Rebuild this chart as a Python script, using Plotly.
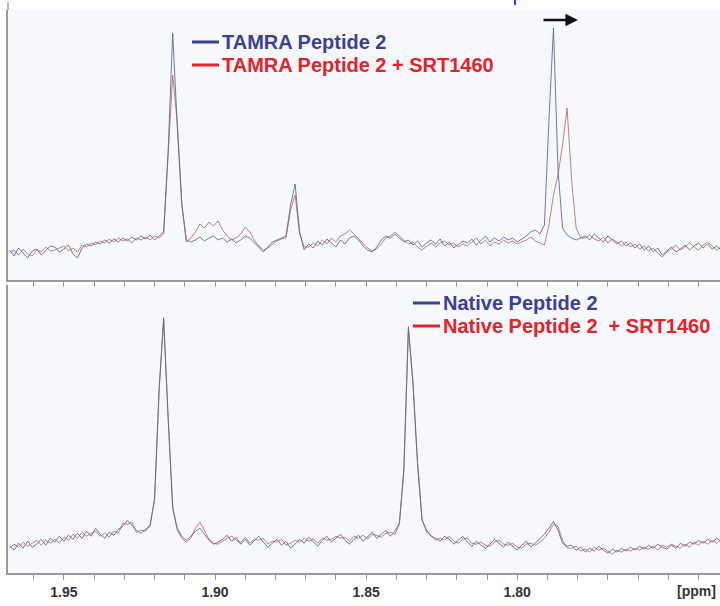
import plotly.graph_objects as go

# chemical shift grid (ppm)
PPM = [
    1.9680, 1.9665, 1.9650, 1.9635, 1.9620, 1.9605, 1.9590, 1.9575, 1.9560, 1.9545,
    1.9530, 1.9515, 1.9500, 1.9485, 1.9470, 1.9455, 1.9440, 1.9425, 1.9410, 1.9395,
    1.9380, 1.9365, 1.9350, 1.9335, 1.9320, 1.9305, 1.9290, 1.9275, 1.9260, 1.9245,
    1.9230, 1.9215, 1.9200, 1.9185, 1.9170, 1.9155, 1.9140, 1.9125, 1.9110, 1.9095,
    1.9080, 1.9065, 1.9050, 1.9035, 1.9020, 1.9005, 1.8990, 1.8975, 1.8960, 1.8945,
    1.8930, 1.8915, 1.8900, 1.8885, 1.8870, 1.8855, 1.8840, 1.8825, 1.8810, 1.8795,
    1.8780, 1.8765, 1.8750, 1.8735, 1.8720, 1.8705, 1.8690, 1.8675, 1.8660, 1.8645,
    1.8630, 1.8615, 1.8600, 1.8585, 1.8570, 1.8555, 1.8540, 1.8525, 1.8510, 1.8495,
    1.8480, 1.8465, 1.8450, 1.8435, 1.8420, 1.8405, 1.8390, 1.8375, 1.8360, 1.8345,
    1.8330, 1.8315, 1.8300, 1.8285, 1.8270, 1.8255, 1.8240, 1.8225, 1.8210, 1.8195,
    1.8180, 1.8165, 1.8150, 1.8135, 1.8120, 1.8105, 1.8090, 1.8075, 1.8060, 1.8045,
    1.8030, 1.8015, 1.8000, 1.7985, 1.7970, 1.7955, 1.7940, 1.7925, 1.7910, 1.7895,
    1.7880, 1.7865, 1.7850, 1.7835, 1.7820, 1.7805, 1.7790, 1.7775, 1.7760, 1.7745,
    1.7730, 1.7715, 1.7700, 1.7685, 1.7670, 1.7655, 1.7640, 1.7625, 1.7610, 1.7595,
    1.7580, 1.7565, 1.7550, 1.7535, 1.7520, 1.7505, 1.7490, 1.7475, 1.7460, 1.7445,
    1.7430, 1.7415, 1.7400, 1.7385, 1.7370, 1.7355, 1.7340, 1.7325,
]

# top panel: TAMRA Peptide 2 (blue) and + SRT1460 (red), arbitrary intensity
TOP_BLUE = [
    0, -6, 2, -3, -8, -1, 1, -5, 0, 4,
    3, -2, 1, 5, -4, -8, 2, 6, 4, 8,
    6, 10, 7, 11, 8, 12, 9, 13, 10, 14,
    11, 15, 10, 14, 18, 100, 217, 125, 45, 10,
    8, 10, 13, 9, 12, 14, 10, 12, 8, 11,
    7, 10, 14, 12, 7, 2, -2, 3, 8, 10,
    12, 14, 45, 66, 18, 0, 6, 2, 9, 5,
    11, 7, 3, 10, 6, 12, 14, 10, 4, 0,
    -2, 3, 10, 14, 12, 16, 12, 8, 10, 5,
    9, 3, 7, 10, 6, 11, 4, 8, 2, 6,
    9, 7, 11, 5, 10, 14, 8, 12, 9, 13,
    10, 12, 8, 11, 14, 18, 20, 16, 25, 130,
    222, 80, 22, 15, 12, 10, 12, 14, 10, 16,
    12, 8, 14, 10, 6, 9, 4, 7, 2, 6,
    0, 4, -2, 2, -5, -1, 3, -2, 1, 5,
    0, 4, 7, 2, 6, 1, 4, 0,
]
TOP_RED = [
    -2, 0, -5, 1, -4, -6, 0, -2, 3, -1,
    0, 2, 4, -1, 2, -2, 5, 3, 7, 5,
    9, 7, 11, 8, 12, 9, 11, 7, 12, 10,
    13, 10, 14, 12, 16, 95, 175, 128, 48, 8,
    12, 18, 26, 22, 28, 24, 29, 20, 14, 10,
    12, 16, 23, 18, 10, 4, 0, 2, 6, 9,
    11, 12, 40, 55, 16, 3, 3, 7, 4, 10,
    6, 12, 8, 14, 16, 20, 16, 11, 6, 2,
    -1, 1, 6, 12, 14, 18, 14, 10, 6, 8,
    3, 0, 4, 7, 3, 7, 9, 5, 7, 3,
    6, 4, 8, 12, 6, 10, 4, 8, 6, 10,
    7, 9, 6, 8, 10, 13, 9, 7, 5, 25,
    55, 75, 105, 142, 70, 22, 12, 12, 15, 11,
    9, 13, 7, 11, 8, 4, 8, 3, 6, 1,
    4, -1, 2, -3, -7, -2, 1, 5, 0, 3,
    7, 3, 0, 5, 8, 4, 0, 3,
]

# bottom panel: Native Peptide 2 (blue) and + SRT1460 (red)
BOT_BLUE = [
    2, -2, 5, 0, 7, 1, 4, 9, 3, 10,
    6, 12, 7, 13, 9, 15, 10, 17, 12, 20,
    14, 10, 16, 13, 19, 22, 28, 23, 18, 15,
    19, 22, 50, 160, 232, 130, 40, 20, 12, 8,
    12, 17, 20, 14, 8, 4, 6, 9, 13, 7,
    11, 4, 9, 3, 7, 12, 6, 1, 5, 9,
    3, 7, 0, 4, 9, 5, 11, 6, 2, 8,
    12, 6, 10, 14, 8, 4, 9, 13, 7, 12,
    16, 10, 14, 18, 12, 17, 25, 80, 223, 165,
    85, 28, 18, 12, 10, 7, 12, 9, 4, 8,
    12, 6, 2, 7, 3, 0, 4, 9, 5, 1,
    6, 2, -2, 3, 7, 1, 5, 9, 14, 20,
    27, 18, 5, 2, 3, -2, 1, -4, 0, -3,
    2, -2, -5, -1, -4, 0, -3, 1, -2, 2,
    -1, 3, 0, 4, 1, -1, 3, 0, 5, 2,
    6, 4, 8, 5, 9, 6, 10, 7,
]
BOT_RED = [
    0, 4, 1, 6, 2, 5, 8, 3, 8, 5,
    9, 5, 11, 8, 14, 10, 16, 12, 15, 17,
    12, 15, 11, 17, 15, 25, 24, 26, 16, 18,
    17, 24, 48, 158, 230, 132, 42, 18, 10, 6,
    10, 20, 26, 18, 9, 5, 4, 7, 10, 12,
    8, 6, 11, 5, 9, 8, 10, 4, 7, 6,
    9, 3, 5, 8, 6, 10, 7, 9, 5, 10,
    8, 9, 12, 10, 11, 7, 12, 10, 13, 9,
    14, 13, 11, 15, 16, 14, 24, 78, 220, 168,
    88, 30, 16, 13, 8, 10, 8, 12, 7, 5,
    9, 10, 5, 4, 6, 3, 2, 6, 8, 4,
    3, 5, 1, 0, 4, 5, 3, 6, 10, 16,
    24, 22, 8, 0, 0, 2, -3, -1, -4, 1,
    -2, 0, -3, -6, -2, -4, -1, -3, 0, -2,
    1, -1, 2, -2, 3, 1, 4, 2, 0, 4,
    1, 6, 3, 7, 4, 8, 5, 9,
]

TICK_VALS = [1.96, 1.95, 1.94, 1.93, 1.92, 1.91, 1.90, 1.89, 1.88, 1.87, 1.86,
             1.85, 1.84, 1.83, 1.82, 1.81, 1.80, 1.79, 1.78, 1.77, 1.76, 1.75, 1.74]
TICK_LABELED = {1.95: "1.95", 1.90: "1.90", 1.85: "1.85", 1.80: "1.80"}
TICK_TEXT = ["<b>%s</b>" % TICK_LABELED[v] if v in TICK_LABELED else "" for v in TICK_VALS]

LEG_TOP = ["TAMRA Peptide 2", "TAMRA Peptide 2 + SRT1460"]
LEG_BOT = ["Native Peptide 2", "Native Peptide 2\u00a0 + SRT1460"]

W, H = 720, 606
ML, MR, MT, MB = 8, 0, 10, 33
PW, PH = W - ML - MR, H - MT - MB
Y_SPLIT_TOP = 280   # pixel row of the upper panel's bottom axis
Y_SPLIT_BOT = 285   # pixel row where the lower panel begins


def pxx(x):
    return (x - ML) / PW


def pxy(y):
    return (H - MB - y) / PH


BLUE_LINE = "rgba(95,97,135,0.85)"
RED_LINE = "rgba(170,110,112,0.85)"
BLUE_TXT = "#3c3f95"
RED_TXT = "#e3222a"
AX = "#9a9a9a"
FONT = "Liberation Sans, Arial, sans-serif"

fig = go.Figure()
fig.add_trace(go.Scatter(x=PPM, y=TOP_RED, xaxis="x", yaxis="y", mode="lines",
                         line=dict(color=RED_LINE, width=1), showlegend=False, name=LEG_TOP[1]))
fig.add_trace(go.Scatter(x=PPM, y=TOP_BLUE, xaxis="x", yaxis="y", mode="lines",
                         line=dict(color=BLUE_LINE, width=1), showlegend=False, name=LEG_TOP[0]))
fig.add_trace(go.Scatter(x=PPM, y=BOT_RED, xaxis="x2", yaxis="y2", mode="lines",
                         line=dict(color=RED_LINE, width=1), showlegend=False, name=LEG_BOT[1]))
fig.add_trace(go.Scatter(x=PPM, y=BOT_BLUE, xaxis="x2", yaxis="y2", mode="lines",
                         line=dict(color=BLUE_LINE, width=1), showlegend=False, name=LEG_BOT[0]))

XR = [1.9685, 1.7329]
common_x = dict(range=XR, showgrid=False, zeroline=False, showline=True, linecolor=AX,
                linewidth=1.5, ticks="outside", tickcolor=AX, ticklen=5, tickwidth=1,
                tickvals=TICK_VALS)
fig.update_layout(
    width=W, height=H,
    margin=dict(l=ML, r=MR, t=MT, b=MB),
    paper_bgcolor="#ffffff",
    plot_bgcolor="#f6f8fc",
    font=dict(family=FONT),
    xaxis=dict(domain=[0, 1], anchor="y", showticklabels=False, **common_x),
    yaxis=dict(domain=[pxy(Y_SPLIT_TOP), 1], range=[-30, 240], showgrid=False, zeroline=False,
               showline=True, linecolor=AX, linewidth=1.5, showticklabels=False, ticks=""),
    xaxis2=dict(domain=[0, 1], anchor="y2", ticktext=TICK_TEXT,
                tickfont=dict(size=14, color="#333333", family=FONT), **common_x),
    yaxis2=dict(domain=[0, pxy(Y_SPLIT_BOT)], range=[-25, 265], showgrid=False, zeroline=False,
                showline=True, linecolor=AX, linewidth=1.5, showticklabels=False, ticks=""),
)

shapes = []
anns = []


def legend_entry(x0, y, text, color):
    shapes.append(dict(type="line", xref="paper", yref="paper", x0=pxx(x0), x1=pxx(x0 + 27),
                       y0=pxy(y), y1=pxy(y), line=dict(color=color, width=3)))
    anns.append(dict(xref="paper", yref="paper", x=pxx(x0 + 28), y=pxy(y), text="<b>%s</b>" % text,
                     showarrow=False, xanchor="left", yanchor="middle",
                     font=dict(size=20, color=color, family=FONT)))


legend_entry(192, 42, LEG_TOP[0], BLUE_TXT)
legend_entry(192, 65, LEG_TOP[1], RED_TXT)
legend_entry(413, 303, LEG_BOT[0], BLUE_TXT)
legend_entry(413, 326, LEG_BOT[1], RED_TXT)

# shift arrow
anns.append(dict(xref="x", yref="y", axref="x", ayref="y", x=1.7799, y=230, ax=1.7918, ay=230,
                 text="", showarrow=True, arrowhead=2, arrowsize=1, arrowwidth=2.5,
                 arrowcolor="#111111"))
# axis unit label
anns.append(dict(xref="paper", yref="paper", x=pxx(718), y=pxy(591), text="<b>[ppm]</b>",
                 showarrow=False, xanchor="right", yanchor="middle",
                 font=dict(size=14, color="#333333", family=FONT)))
# left frame line above plot area
shapes.append(dict(type="line", xref="paper", yref="paper", x0=0, x1=0, y0=1, y1=pxy(2),
                   line=dict(color=AX, width=1.5)))
# clipped blue fragment at the very top edge
shapes.append(dict(type="line", xref="paper", yref="paper", x0=pxx(515), x1=pxx(515),
                   y0=pxy(0), y1=pxy(5), line=dict(color="#2a3cff", width=2)))

fig.update_layout(shapes=shapes, annotations=anns)
fig.write_html("out.html", config={"displayModeBar": False},
               post_script="document.body.style.margin='0';")
